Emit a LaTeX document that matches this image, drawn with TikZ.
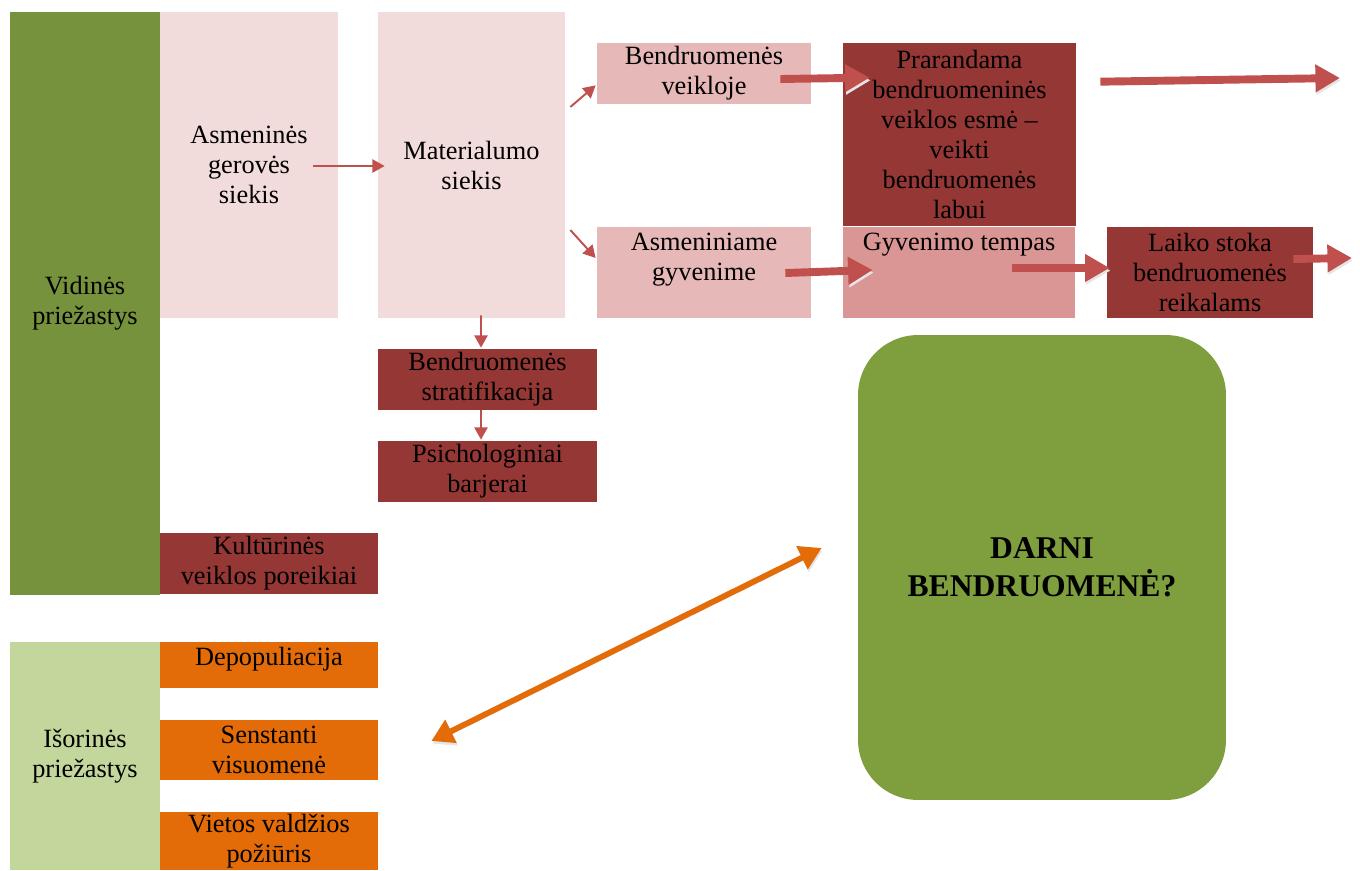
\documentclass[tikz,border=0pt]{standalone}
\usepackage{fontspec}
\setmainfont{Liberation Serif}
\usetikzlibrary{arrows.meta,calc}

\definecolor{grnD}{HTML}{76923C}
\definecolor{grnL}{HTML}{C3D69B}
\definecolor{grnB}{HTML}{7F9F3F}
\definecolor{pinkL}{HTML}{F2DCDB}
\definecolor{pinkM}{HTML}{E6B8B7}
\definecolor{pinkD}{HTML}{DA9694}
\definecolor{redD}{HTML}{953735}
\definecolor{orng}{HTML}{E36C09}
\definecolor{arr}{HTML}{C0504D}

\newcommand\txtsize{\fontsize{15}{17.1}\selectfont}

\tikzset{
  box/.style={rectangle, inner sep=0pt, align=center, font=\txtsize},
  txt/.style={inner sep=0pt, align=center, font=\txtsize},
  thinarr/.style={draw=arr, line width=1.1pt, -{Triangle[length=7pt,width=7.5pt]}},
  fatarr/.style={draw=arr, line width=4.5pt, -{Triangle[length=14pt,width=15pt]},
    preaction={draw=black!10, transform canvas={shift={(0.5pt,-1.5pt)}}}},
  orngarr/.style={draw=orng, line width=3.3pt, {Triangle[length=12.5pt,width=14pt]}-{Triangle[length=12.5pt,width=14pt]},
    preaction={draw=black!10, transform canvas={shift={(0.5pt,-1.5pt)}}}}
}

\begin{document}
\begin{tikzpicture}[x=0.02cm, y=-0.02cm]
    \useasboundingbox (0,0) rectangle (1360,870);

    % vidines priezastys
    \node[box, fill=grnD, minimum width=3cm, minimum height=11.66cm] (vid) at (85,303.5) {Vidinės\\priežastys};
    \node[box, fill=pinkL, minimum width=3.56cm, minimum height=6.12cm] (asm) at (249,165) {Asmeninės\\gerovės\\siekis};
    \node[box, fill=pinkL, minimum width=3.74cm, minimum height=6.12cm] (mat) at (471.5,165) {Materialumo\\siekis};
    \node[box, fill=pinkM, minimum width=4.28cm, minimum height=1.22cm] (bveik) at (704,73.5) {Bendruomenės\\veikloje};
    \node[box, fill=redD, minimum width=4.66cm, minimum height=3.66cm] (prar) at (959.5,134.5)
        {Prarandama\\bendruomeninės\\veiklos esmė --\\veikti\\bendruomenės\\labui};
    \node[box, fill=pinkM, minimum width=4.28cm, minimum height=1.82cm] (asmgyv) at (704,272.5) {};
    \node[txt] (asmgyv-t) at ($(asmgyv)+(0,-13)$) {Asmeniniame\\gyvenime};
    \node[box, fill=pinkD, minimum width=4.64cm, minimum height=1.82cm] (gyv) at (959,272.5) {};
    \node[txt] (gyv-t) at ($(gyv)+(0,-28)$) {Gyvenimo tempas};
    \node[box, fill=redD, minimum width=4.12cm, minimum height=1.82cm] (laiko) at (1210,272.5) {Laiko stoka\\bendruomenės\\reikalams};
    \node[box, fill=redD, minimum width=4.38cm, minimum height=1.22cm] (strat) at (487.5,379.5) {Bendruomenės\\stratifikacija};
    \node[box, fill=redD, minimum width=4.38cm, minimum height=1.22cm] (psich) at (487.5,471.5) {Psichologiniai\\barjerai};
    \node[box, fill=redD, minimum width=4.36cm, minimum height=1.22cm] (kult) at (269,563.5) {Kultūrinės\\veiklos poreikiai};

    % isorines priezastys
    \node[box, fill=grnL, minimum width=3cm, minimum height=4.56cm] (isor) at (85,756) {Išorinės\\priežastys};
    \node[box, fill=orng, minimum width=4.36cm, minimum height=0.92cm] (depop) at (269,665) {};
    \node[txt] (depop-t) at ($(depop)+(0,-5.5)$) {Depopuliacija};
    \node[box, fill=orng, minimum width=4.36cm, minimum height=1.2cm] (senst) at (269,750) {Senstanti\\visuomenė};
    \node[box, fill=orng, minimum width=4.36cm, minimum height=1.16cm] (viet) at (269,841) {Vietos valdžios\\požiūris};

    \node[box, fill=grnB, rounded corners=1.2cm, minimum width=7.36cm, minimum height=9.3cm,
        font=\fontsize{18}{21.6}\selectfont\bfseries] (darni) at (1042,567.5) {DARNI\\BENDRUOMENĖ?};

    \coordinate (out1) at (1340,78);
    \coordinate (out2) at (1352,258);

    \draw[thinarr] ($(asm.east)+(-25,1)$) -- ($(mat.west)+(7,1)$);
    \draw[thinarr] ($(mat.east)+(5,-58)$) -- ($(bveik.south west)+(-1,-19)$);
    \draw[thinarr] ($(mat.east)+(5,65)$) -- ($(asmgyv.west)+(-1,-14.5)$);
    \draw[thinarr] ($(mat.south)+(9.5,-3)$) -- ($(strat.north)+(-6.5,-1)$);
    \draw[thinarr] ($(strat.south)+(-6.5,0)$) -- ($(psich.north)+(-6.5,-1)$);

    \draw[fatarr] ($(bveik.east)+(-31,5.5)$) -- ($(prar.north west)+(27,35)$);
    \draw[fatarr] ($(prar.north east)+(24,39)$) -- (out1);
    \draw[fatarr] ($(asmgyv.east)+(-26,0.5)$) -- ($(gyv.west)+(30,-2.5)$);
    \draw[fatarr] ($(gyv.east)+(-63,-4.5)$) -- ($(laiko.west)+(3,-4.5)$);
    \draw[fatarr] ($(laiko.east)+(-20,-13.5)$) -- (out2);

    \draw[orngarr] ($(senst.east)+(53,-9)$) -- ($(darni.west)+(-36,-19.5)$);
\end{tikzpicture}
\end{document}
